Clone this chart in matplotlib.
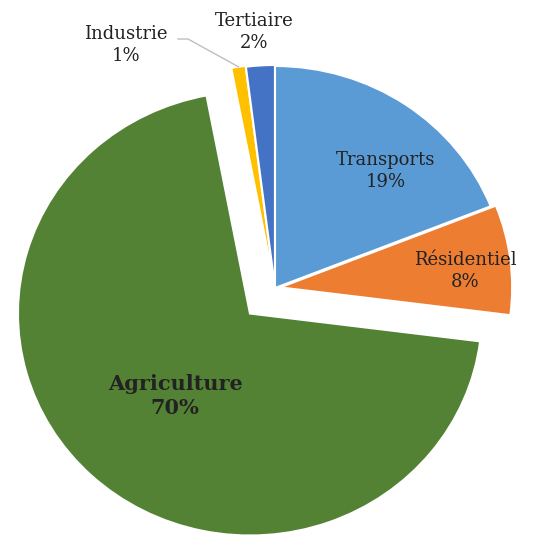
import numpy as np
import matplotlib.pyplot as plt

categories = ['Transports', 'Résidentiel', 'Agriculture', 'Industrie', 'Tertiaire']
values = [19, 8, 70, 1, 2]
colors = ['#5B9BD5', '#ED7D31', '#548235', '#FFC000', '#4472C4']
explode = [0, 5, 35, 2, 1]

W, H = 535, 536
sx = 1.045  # the reference is slightly stretched horizontally

fig = plt.figure(figsize=(W / 100, H / 100), dpi=100)
ax = fig.add_axes([0, 0, 1, 1])

cx, cy, r = 275 / sx, H - 288, 222
wedges, _ = ax.pie(values, colors=colors, explode=explode, startangle=90,
                   counterclock=False, center=(cx, cy), radius=r,
                   wedgeprops=dict(edgecolor='white', linewidth=1.5))
ax.set_aspect('auto')
ax.set_xlim(0, W / sx)
ax.set_ylim(0, H)
ax.axis('off')


def label(px, py, txt, **kw):
    ax.text(px / sx, H - py, txt, family='DejaVu Serif', color='#222222',
            ha='center', va='center', linespacing=1.25, **kw)


label(386, 171, f'{categories[0]}\n{values[0]}%', fontsize=13)
label(465, 271, f'{categories[1]}\n{values[1]}%', fontsize=13)
label(175, 396, f'{categories[2]}\n{values[2]}%', fontsize=15, fontweight='bold')
label(254, 32, f'{categories[4]}\n{values[4]}%', fontsize=13)
label(126, 45, f'{categories[3]}\n{values[3]}%', fontsize=13)

# leader line for Industrie
w = wedges[3]
ang = np.deg2rad((w.theta1 + w.theta2) / 2)
x0, y0 = w.center
ex, ey = x0 + w.r * np.cos(ang), y0 + w.r * np.sin(ang)
ax.plot([178 / sx, 188 / sx, ex], [H - 39, H - 39, ey], color='#bfbfbf', linewidth=1)

fig.savefig('out.png', dpi=100)
